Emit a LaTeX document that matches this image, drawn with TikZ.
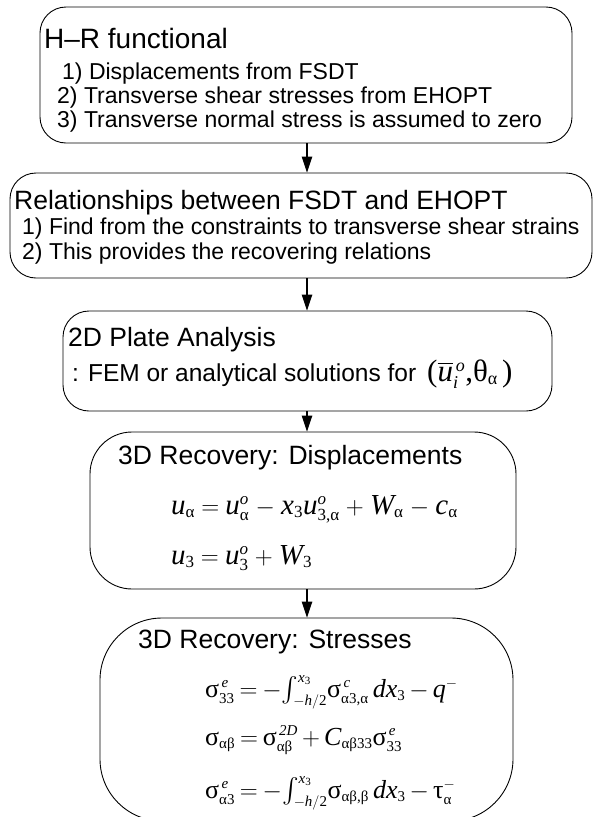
\documentclass[tikz,border=0pt]{standalone}
\usepackage{amsmath}
\usepackage{fontspec}
\setmainfont{Liberation Sans}
\newfontfamily\tms{Liberation Serif}
\usetikzlibrary{arrows.meta}
\DeclareMathSizes{29}{29}{17}{13}
\DeclareMathSizes{26}{26}{15}{11}
\DeclareMathSizes{31}{31}{18}{14}
\newcommand\mi[1]{\text{\tms\itshape #1}}
\newcommand\gr[1]{\text{\tms #1}}
\newcommand\eqspacing{\thickmuskip=4.5mu\medmuskip=4.5mu}
\newcommand\eqspacingb{\thickmuskip=3.5mu\medmuskip=3mu}
\tikzset{
  box/.style={draw, line width=0.9pt, inner sep=0pt},
  ttl/.style={anchor=base west, inner sep=0pt, font=\fontsize{26.5}{28}\selectfont},
  itm/.style={anchor=base west, inner sep=0pt, font=\fontsize{23}{25}\selectfont},
  eqn/.style={anchor=base west, inner sep=0pt, font=\fontsize{29}{31}\selectfont\eqspacing},
  eqs/.style={anchor=base west, inner sep=0pt, font=\fontsize{26}{28}\selectfont\eqspacingb},
  flow/.style={line width=1.1pt, -{Triangle[length=16pt,width=10.5pt]}}
}
\begin{document}
\begin{tikzpicture}[x=1pt,y=-1pt]
\path[use as bounding box, clip] (0,0) rectangle (595,817);
% boxes
\node[box, rounded corners=26pt, minimum width=532pt, minimum height=136pt] (b1) at (306,75) {};
\node[box, rounded corners=26pt, minimum width=582pt, minimum height=105pt] (b2) at (301,225.5) {};
\node[box, rounded corners=26pt, minimum width=489pt, minimum height=100pt] (b3) at (307.5,361) {};
\node[box, rounded corners=42pt, minimum width=426pt, minimum height=157pt] (b4) at (303,510.5) {};
\node[box, rounded corners=62pt, minimum width=413pt, minimum height=203pt] (b5) at (306.5,719.5) {};
% texts box 1
\node[ttl, font=\fontsize{28}{30}\selectfont] (t1) at (44,48) {H–R functional};
\node[itm] (t1a) at (62,79) {1) Displacements from FSDT};
\node[itm] (t1b) at (57,103) {2) Transverse shear stresses from EHOPT};
\node[itm] (t1c) at (57,127) {3) Transverse normal stress is assumed to zero};
% box 2
\node[ttl] (t2) at (14,209) {Relationships between FSDT and EHOPT};
\node[itm] (t2a) at (22,234) {1) Find from the constraints to transverse shear strains};
\node[itm] (t2b) at (22,259) {2) This provides the recovering relations};
% box 3
\node[ttl] (t3) at (68,346) {2D Plate Analysis};
\node[anchor=base west, inner sep=0pt] (t3a) at (72,381) {\fontsize{24.5}{26}\selectfont : FEM or analytical solutions for \fontsize{31}{33}\selectfont$\,\gr{(}\overline{\mi{u}}{}^{\,\mi{o}}_{\mi{i}}\gr{,}\gr{θ}_{\gr{α}}\,\gr{)}$};
% box 4
\node[ttl] (t4) at (118,464) {3D Recovery: Displacements};
\node[eqn] (e4a) at (171,514) {$\mi{u}_{\gr{α}} = \mi{u}^{\mi{o}}_{\gr{α}} - \mi{x}_{\gr{3}}\mi{u}^{\mi{o}}_{\gr{3,α}} + \mi{W}_{\gr{α}} - \mi{c}_{\gr{α}}$};
\node[eqn] (e4b) at (171,564) {$\mi{u}_{\gr{3}} = \mi{u}^{\mi{o}}_{\gr{3}} + \mi{W}_{\gr{3}}$};
% box 5
\node[ttl] (t5) at (138,648) {3D Recovery: Stresses};
\node[eqs] (e5a) at (205,697) {$\gr{σ}^{\,\mi{e}}_{\gr{33}} = -\!\int_{-\mi{h}/\gr{2}}^{\mi{x}_{\gr{3}}}\!\gr{σ}^{\,\mi{c}}_{\gr{α3,α}}\,\mi{dx}_{\gr{3}} - \mi{q}^{-}$};
\node[eqs] (e5b) at (205,745) {$\gr{σ}_{\gr{αβ}} = \gr{σ}^{\,\mi{2D}}_{\gr{αβ}} + \mi{C}_{\gr{αβ33}}\gr{σ}^{\,\mi{e}}_{\gr{33}}$};
\node[eqs] (e5c) at (205,798) {$\gr{σ}^{\,\mi{e}}_{\gr{α3}} = -\!\int_{-\mi{h}/\gr{2}}^{\mi{x}_{\gr{3}}}\!\gr{σ}_{\gr{αβ,β}}\,\mi{dx}_{\gr{3}} - \gr{τ}^{-}_{\gr{α}}$};
% arrows
\draw[flow] (b1.south -| 307,0) -- (b2.north -| 307,0);
\draw[flow] (b2.south -| 307,0) -- (b3.north -| 307,0);
\draw[flow] (b3.south -| 307,0) -- (b4.north -| 307,0);
\draw[flow] (b4.south -| 307,0) -- (b5.north -| 307,0);
\end{tikzpicture}
\end{document}
